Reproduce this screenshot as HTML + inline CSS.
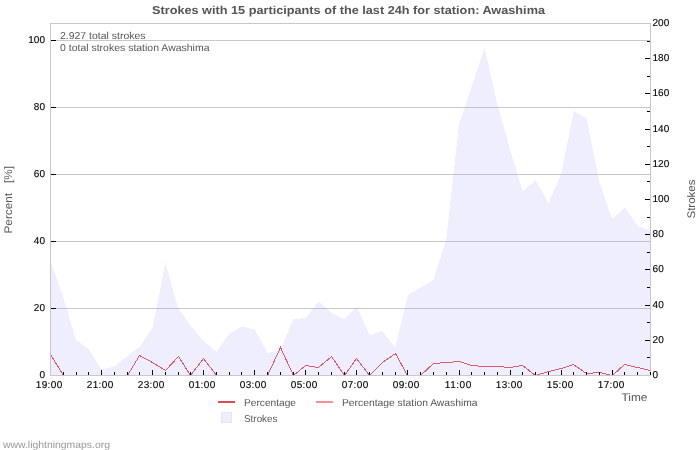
<!DOCTYPE html><html><head><meta charset="utf-8"><style>html,body{margin:0;padding:0;background:#fff;width:700px;height:450px;overflow:hidden}svg{display:block;will-change:transform}text{font-family:"Liberation Sans",sans-serif;text-rendering:geometricPrecision}</style></head><body>
<svg width="700" height="450" viewBox="0 0 700 450">
<rect width="700" height="450" fill="#fff"/>
<line x1="50" x2="650" y1="308.5" y2="308.5" stroke="#c8c8c8" stroke-width="1" shape-rendering="crispEdges"/>
<line x1="50" x2="650" y1="241.5" y2="241.5" stroke="#c8c8c8" stroke-width="1" shape-rendering="crispEdges"/>
<line x1="50" x2="650" y1="174.5" y2="174.5" stroke="#c8c8c8" stroke-width="1" shape-rendering="crispEdges"/>
<line x1="50" x2="650" y1="107.5" y2="107.5" stroke="#c8c8c8" stroke-width="1" shape-rendering="crispEdges"/>
<line x1="50" x2="650" y1="40.5" y2="40.5" stroke="#c8c8c8" stroke-width="1" shape-rendering="crispEdges"/>
<polygon points="50,375 50.50,261.00 63.27,297.50 76.03,339.50 88.80,349.50 101.56,369.50 114.33,366.50 127.10,356.50 139.86,346.50 152.63,327.50 165.39,262.80 178.16,308.30 190.93,326.10 203.69,341.20 216.46,352.00 229.22,333.50 241.99,326.50 254.76,329.50 267.52,353.00 280.29,350.50 293.05,319.50 305.82,317.70 318.59,301.50 331.35,312.50 344.12,319.50 356.88,307.00 369.65,335.20 382.41,331.20 395.18,347.90 407.95,294.90 420.71,287.50 433.48,279.70 446.24,239.50 459.01,124.50 471.78,85.90 484.54,47.90 497.31,104.30 510.07,149.50 522.84,191.50 535.61,180.00 548.37,203.30 561.14,174.00 573.90,111.00 586.67,118.50 599.44,182.40 612.20,219.30 624.97,207.70 637.73,226.00 650.50,231.00 650,375" fill="#a0a0ff" fill-opacity="0.18" shape-rendering="crispEdges"/>
<polyline points="50.50,354.50 63.50,375.50 76.50,375.50 88.50,375.50 101.50,375.50 114.50,375.50 127.50,375.50 139.50,355.50 152.50,362.50 165.50,370.50 178.50,356.50 190.50,375.50 203.50,358.50 216.50,375.50 229.50,375.50 241.50,375.50 254.50,375.50 267.50,375.50 280.50,347.50 293.50,375.50 305.50,365.50 318.50,367.50 331.50,356.50 344.50,375.50 356.50,358.50 369.50,375.50 382.50,362.50 395.50,353.50 407.50,375.50 420.50,375.50 433.50,363.50 446.50,362.50 459.50,361.50 471.50,365.50 484.50,366.50 497.50,366.50 510.50,367.50 522.50,365.50 535.50,375.50 548.50,371.50 561.50,368.50 573.50,364.50 586.50,373.50 599.50,372.50 612.50,375.50 624.50,364.50 637.50,367.50 650.50,370.50" fill="none" stroke="#e0586e" stroke-width="1" shape-rendering="crispEdges"/>
<rect x="50.5" y="23.5" width="600" height="352" fill="none" stroke="#c8c8c8" stroke-width="1" shape-rendering="crispEdges"/>
<text x="45" y="378" font-size="10" text-anchor="end" textLength="5.6" lengthAdjust="spacing" fill="#000" stroke="#000" stroke-width="0.12">0</text>
<line x1="51" x2="56" y1="308.5" y2="308.5" stroke="#000" stroke-width="1" shape-rendering="crispEdges"/>
<text x="45" y="311" font-size="10" text-anchor="end" textLength="11.2" lengthAdjust="spacing" fill="#000" stroke="#000" stroke-width="0.12">20</text>
<line x1="51" x2="56" y1="241.5" y2="241.5" stroke="#000" stroke-width="1" shape-rendering="crispEdges"/>
<text x="45" y="244" font-size="10" text-anchor="end" textLength="11.2" lengthAdjust="spacing" fill="#000" stroke="#000" stroke-width="0.12">40</text>
<line x1="51" x2="56" y1="174.5" y2="174.5" stroke="#000" stroke-width="1" shape-rendering="crispEdges"/>
<text x="45" y="177" font-size="10" text-anchor="end" textLength="11.2" lengthAdjust="spacing" fill="#000" stroke="#000" stroke-width="0.12">60</text>
<line x1="51" x2="56" y1="107.5" y2="107.5" stroke="#000" stroke-width="1" shape-rendering="crispEdges"/>
<text x="45" y="110" font-size="10" text-anchor="end" textLength="11.2" lengthAdjust="spacing" fill="#000" stroke="#000" stroke-width="0.12">80</text>
<line x1="51" x2="56" y1="40.5" y2="40.5" stroke="#000" stroke-width="1" shape-rendering="crispEdges"/>
<text x="45" y="43" font-size="10" text-anchor="end" textLength="16.799999999999997" lengthAdjust="spacing" fill="#000" stroke="#000" stroke-width="0.12">100</text>
<text x="652.5" y="378" font-size="10" textLength="5.6" lengthAdjust="spacing" fill="#000" stroke="#000" stroke-width="0.12">0</text>
<line x1="647" x2="650" y1="357.5" y2="357.5" stroke="#000" stroke-width="1" shape-rendering="crispEdges"/>
<line x1="645" x2="650" y1="340.5" y2="340.5" stroke="#000" stroke-width="1" shape-rendering="crispEdges"/>
<text x="652.5" y="343" font-size="10" textLength="11.2" lengthAdjust="spacing" fill="#000" stroke="#000" stroke-width="0.12">20</text>
<line x1="647" x2="650" y1="322.5" y2="322.5" stroke="#000" stroke-width="1" shape-rendering="crispEdges"/>
<line x1="645" x2="650" y1="305.5" y2="305.5" stroke="#000" stroke-width="1" shape-rendering="crispEdges"/>
<text x="652.5" y="308" font-size="10" textLength="11.2" lengthAdjust="spacing" fill="#000" stroke="#000" stroke-width="0.12">40</text>
<line x1="647" x2="650" y1="287.5" y2="287.5" stroke="#000" stroke-width="1" shape-rendering="crispEdges"/>
<line x1="645" x2="650" y1="269.5" y2="269.5" stroke="#000" stroke-width="1" shape-rendering="crispEdges"/>
<text x="652.5" y="272" font-size="10" textLength="11.2" lengthAdjust="spacing" fill="#000" stroke="#000" stroke-width="0.12">60</text>
<line x1="647" x2="650" y1="252.5" y2="252.5" stroke="#000" stroke-width="1" shape-rendering="crispEdges"/>
<line x1="645" x2="650" y1="234.5" y2="234.5" stroke="#000" stroke-width="1" shape-rendering="crispEdges"/>
<text x="652.5" y="237" font-size="10" textLength="11.2" lengthAdjust="spacing" fill="#000" stroke="#000" stroke-width="0.12">80</text>
<line x1="647" x2="650" y1="217.5" y2="217.5" stroke="#000" stroke-width="1" shape-rendering="crispEdges"/>
<line x1="645" x2="650" y1="199.5" y2="199.5" stroke="#000" stroke-width="1" shape-rendering="crispEdges"/>
<text x="652.5" y="202" font-size="10" textLength="16.799999999999997" lengthAdjust="spacing" fill="#000" stroke="#000" stroke-width="0.12">100</text>
<line x1="647" x2="650" y1="181.5" y2="181.5" stroke="#000" stroke-width="1" shape-rendering="crispEdges"/>
<line x1="645" x2="650" y1="164.5" y2="164.5" stroke="#000" stroke-width="1" shape-rendering="crispEdges"/>
<text x="652.5" y="167" font-size="10" textLength="16.799999999999997" lengthAdjust="spacing" fill="#000" stroke="#000" stroke-width="0.12">120</text>
<line x1="647" x2="650" y1="146.5" y2="146.5" stroke="#000" stroke-width="1" shape-rendering="crispEdges"/>
<line x1="645" x2="650" y1="129.5" y2="129.5" stroke="#000" stroke-width="1" shape-rendering="crispEdges"/>
<text x="652.5" y="132" font-size="10" textLength="16.799999999999997" lengthAdjust="spacing" fill="#000" stroke="#000" stroke-width="0.12">140</text>
<line x1="647" x2="650" y1="111.5" y2="111.5" stroke="#000" stroke-width="1" shape-rendering="crispEdges"/>
<line x1="645" x2="650" y1="93.5" y2="93.5" stroke="#000" stroke-width="1" shape-rendering="crispEdges"/>
<text x="652.5" y="96" font-size="10" textLength="16.799999999999997" lengthAdjust="spacing" fill="#000" stroke="#000" stroke-width="0.12">160</text>
<line x1="647" x2="650" y1="76.5" y2="76.5" stroke="#000" stroke-width="1" shape-rendering="crispEdges"/>
<line x1="645" x2="650" y1="58.5" y2="58.5" stroke="#000" stroke-width="1" shape-rendering="crispEdges"/>
<text x="652.5" y="61" font-size="10" textLength="16.799999999999997" lengthAdjust="spacing" fill="#000" stroke="#000" stroke-width="0.12">180</text>
<line x1="647" x2="650" y1="41.5" y2="41.5" stroke="#000" stroke-width="1" shape-rendering="crispEdges"/>
<text x="652.5" y="26" font-size="10" textLength="16.799999999999997" lengthAdjust="spacing" fill="#000" stroke="#000" stroke-width="0.12">200</text>
<text x="49" y="388.3" font-size="10" text-anchor="middle" textLength="26.5" lengthAdjust="spacing" fill="#000" stroke="#000" stroke-width="0.12">19:00</text>
<line x1="63.5" x2="63.5" y1="372" y2="375" stroke="#000" stroke-width="1" shape-rendering="crispEdges"/>
<line x1="76.5" x2="76.5" y1="372" y2="375" stroke="#000" stroke-width="1" shape-rendering="crispEdges"/>
<line x1="88.5" x2="88.5" y1="372" y2="375" stroke="#000" stroke-width="1" shape-rendering="crispEdges"/>
<line x1="101.5" x2="101.5" y1="370" y2="375" stroke="#000" stroke-width="1" shape-rendering="crispEdges"/>
<text x="100" y="388.3" font-size="10" text-anchor="middle" textLength="26.5" lengthAdjust="spacing" fill="#000" stroke="#000" stroke-width="0.12">21:00</text>
<line x1="114.5" x2="114.5" y1="372" y2="375" stroke="#000" stroke-width="1" shape-rendering="crispEdges"/>
<line x1="127.5" x2="127.5" y1="372" y2="375" stroke="#000" stroke-width="1" shape-rendering="crispEdges"/>
<line x1="139.5" x2="139.5" y1="372" y2="375" stroke="#000" stroke-width="1" shape-rendering="crispEdges"/>
<line x1="152.5" x2="152.5" y1="370" y2="375" stroke="#000" stroke-width="1" shape-rendering="crispEdges"/>
<text x="151" y="388.3" font-size="10" text-anchor="middle" textLength="26.5" lengthAdjust="spacing" fill="#000" stroke="#000" stroke-width="0.12">23:00</text>
<line x1="165.5" x2="165.5" y1="372" y2="375" stroke="#000" stroke-width="1" shape-rendering="crispEdges"/>
<line x1="178.5" x2="178.5" y1="372" y2="375" stroke="#000" stroke-width="1" shape-rendering="crispEdges"/>
<line x1="190.5" x2="190.5" y1="372" y2="375" stroke="#000" stroke-width="1" shape-rendering="crispEdges"/>
<line x1="203.5" x2="203.5" y1="370" y2="375" stroke="#000" stroke-width="1" shape-rendering="crispEdges"/>
<text x="202" y="388.3" font-size="10" text-anchor="middle" textLength="26.5" lengthAdjust="spacing" fill="#000" stroke="#000" stroke-width="0.12">01:00</text>
<line x1="216.5" x2="216.5" y1="372" y2="375" stroke="#000" stroke-width="1" shape-rendering="crispEdges"/>
<line x1="229.5" x2="229.5" y1="372" y2="375" stroke="#000" stroke-width="1" shape-rendering="crispEdges"/>
<line x1="241.5" x2="241.5" y1="372" y2="375" stroke="#000" stroke-width="1" shape-rendering="crispEdges"/>
<line x1="254.5" x2="254.5" y1="370" y2="375" stroke="#000" stroke-width="1" shape-rendering="crispEdges"/>
<text x="253" y="388.3" font-size="10" text-anchor="middle" textLength="26.5" lengthAdjust="spacing" fill="#000" stroke="#000" stroke-width="0.12">03:00</text>
<line x1="267.5" x2="267.5" y1="372" y2="375" stroke="#000" stroke-width="1" shape-rendering="crispEdges"/>
<line x1="280.5" x2="280.5" y1="372" y2="375" stroke="#000" stroke-width="1" shape-rendering="crispEdges"/>
<line x1="293.5" x2="293.5" y1="372" y2="375" stroke="#000" stroke-width="1" shape-rendering="crispEdges"/>
<line x1="305.5" x2="305.5" y1="370" y2="375" stroke="#000" stroke-width="1" shape-rendering="crispEdges"/>
<text x="304" y="388.3" font-size="10" text-anchor="middle" textLength="26.5" lengthAdjust="spacing" fill="#000" stroke="#000" stroke-width="0.12">05:00</text>
<line x1="318.5" x2="318.5" y1="372" y2="375" stroke="#000" stroke-width="1" shape-rendering="crispEdges"/>
<line x1="331.5" x2="331.5" y1="372" y2="375" stroke="#000" stroke-width="1" shape-rendering="crispEdges"/>
<line x1="344.5" x2="344.5" y1="372" y2="375" stroke="#000" stroke-width="1" shape-rendering="crispEdges"/>
<line x1="356.5" x2="356.5" y1="370" y2="375" stroke="#000" stroke-width="1" shape-rendering="crispEdges"/>
<text x="355" y="388.3" font-size="10" text-anchor="middle" textLength="26.5" lengthAdjust="spacing" fill="#000" stroke="#000" stroke-width="0.12">07:00</text>
<line x1="369.5" x2="369.5" y1="372" y2="375" stroke="#000" stroke-width="1" shape-rendering="crispEdges"/>
<line x1="382.5" x2="382.5" y1="372" y2="375" stroke="#000" stroke-width="1" shape-rendering="crispEdges"/>
<line x1="395.5" x2="395.5" y1="372" y2="375" stroke="#000" stroke-width="1" shape-rendering="crispEdges"/>
<line x1="407.5" x2="407.5" y1="370" y2="375" stroke="#000" stroke-width="1" shape-rendering="crispEdges"/>
<text x="406" y="388.3" font-size="10" text-anchor="middle" textLength="26.5" lengthAdjust="spacing" fill="#000" stroke="#000" stroke-width="0.12">09:00</text>
<line x1="420.5" x2="420.5" y1="372" y2="375" stroke="#000" stroke-width="1" shape-rendering="crispEdges"/>
<line x1="433.5" x2="433.5" y1="372" y2="375" stroke="#000" stroke-width="1" shape-rendering="crispEdges"/>
<line x1="446.5" x2="446.5" y1="372" y2="375" stroke="#000" stroke-width="1" shape-rendering="crispEdges"/>
<line x1="459.5" x2="459.5" y1="370" y2="375" stroke="#000" stroke-width="1" shape-rendering="crispEdges"/>
<text x="458" y="388.3" font-size="10" text-anchor="middle" textLength="26.5" lengthAdjust="spacing" fill="#000" stroke="#000" stroke-width="0.12">11:00</text>
<line x1="471.5" x2="471.5" y1="372" y2="375" stroke="#000" stroke-width="1" shape-rendering="crispEdges"/>
<line x1="484.5" x2="484.5" y1="372" y2="375" stroke="#000" stroke-width="1" shape-rendering="crispEdges"/>
<line x1="497.5" x2="497.5" y1="372" y2="375" stroke="#000" stroke-width="1" shape-rendering="crispEdges"/>
<line x1="510.5" x2="510.5" y1="370" y2="375" stroke="#000" stroke-width="1" shape-rendering="crispEdges"/>
<text x="509" y="388.3" font-size="10" text-anchor="middle" textLength="26.5" lengthAdjust="spacing" fill="#000" stroke="#000" stroke-width="0.12">13:00</text>
<line x1="522.5" x2="522.5" y1="372" y2="375" stroke="#000" stroke-width="1" shape-rendering="crispEdges"/>
<line x1="535.5" x2="535.5" y1="372" y2="375" stroke="#000" stroke-width="1" shape-rendering="crispEdges"/>
<line x1="548.5" x2="548.5" y1="372" y2="375" stroke="#000" stroke-width="1" shape-rendering="crispEdges"/>
<line x1="561.5" x2="561.5" y1="370" y2="375" stroke="#000" stroke-width="1" shape-rendering="crispEdges"/>
<text x="560" y="388.3" font-size="10" text-anchor="middle" textLength="26.5" lengthAdjust="spacing" fill="#000" stroke="#000" stroke-width="0.12">15:00</text>
<line x1="573.5" x2="573.5" y1="372" y2="375" stroke="#000" stroke-width="1" shape-rendering="crispEdges"/>
<line x1="586.5" x2="586.5" y1="372" y2="375" stroke="#000" stroke-width="1" shape-rendering="crispEdges"/>
<line x1="599.5" x2="599.5" y1="372" y2="375" stroke="#000" stroke-width="1" shape-rendering="crispEdges"/>
<line x1="612.5" x2="612.5" y1="370" y2="375" stroke="#000" stroke-width="1" shape-rendering="crispEdges"/>
<text x="611" y="388.3" font-size="10" text-anchor="middle" textLength="26.5" lengthAdjust="spacing" fill="#000" stroke="#000" stroke-width="0.12">17:00</text>
<line x1="624.5" x2="624.5" y1="372" y2="375" stroke="#000" stroke-width="1" shape-rendering="crispEdges"/>
<line x1="637.5" x2="637.5" y1="372" y2="375" stroke="#000" stroke-width="1" shape-rendering="crispEdges"/>
<line x1="650.5" x2="650.5" y1="372" y2="375" stroke="#000" stroke-width="1" shape-rendering="crispEdges"/>
<text x="152" y="14" font-size="11.5" font-weight="bold" textLength="393" lengthAdjust="spacingAndGlyphs" fill="#555">Strokes with 15 participants of the last 24h for station: Awashima</text>
<text x="60" y="39" font-size="10" textLength="85.5" lengthAdjust="spacingAndGlyphs" fill="#555">2.927 total strokes</text>
<text x="60" y="51" font-size="10" textLength="149.5" lengthAdjust="spacingAndGlyphs" fill="#555">0 total strokes station Awashima</text>
<text transform="translate(12,233.5) rotate(-90)" font-size="11" textLength="67.5" lengthAdjust="spacingAndGlyphs" fill="#555" xml:space="preserve">Percent   [%]</text>
<text transform="translate(695,218.5) rotate(-90)" font-size="11" textLength="39" lengthAdjust="spacingAndGlyphs" fill="#555">Strokes</text>
<text x="621.5" y="401" font-size="11" textLength="26" lengthAdjust="spacingAndGlyphs" fill="#555">Time</text>
<rect x="218" y="401" width="17" height="2" fill="#e04b50"/>
<text x="244" y="406" font-size="10" textLength="52" lengthAdjust="spacingAndGlyphs" fill="#555">Percentage</text>
<rect x="316" y="401" width="17" height="2" fill="#ff9090"/>
<text x="342" y="406" font-size="10" textLength="135.5" lengthAdjust="spacingAndGlyphs" fill="#555">Percentage station Awashima</text>
<rect x="221.5" y="412.5" width="10" height="10" fill="#eeeeff" stroke="#e4e4ff" stroke-width="1" shape-rendering="crispEdges"/>
<text x="244" y="422" font-size="10" textLength="33.5" lengthAdjust="spacingAndGlyphs" fill="#555">Strokes</text>
<text x="3" y="448" font-size="10" textLength="107" lengthAdjust="spacingAndGlyphs" fill="#999">www.lightningmaps.org</text>
</svg></body></html>
